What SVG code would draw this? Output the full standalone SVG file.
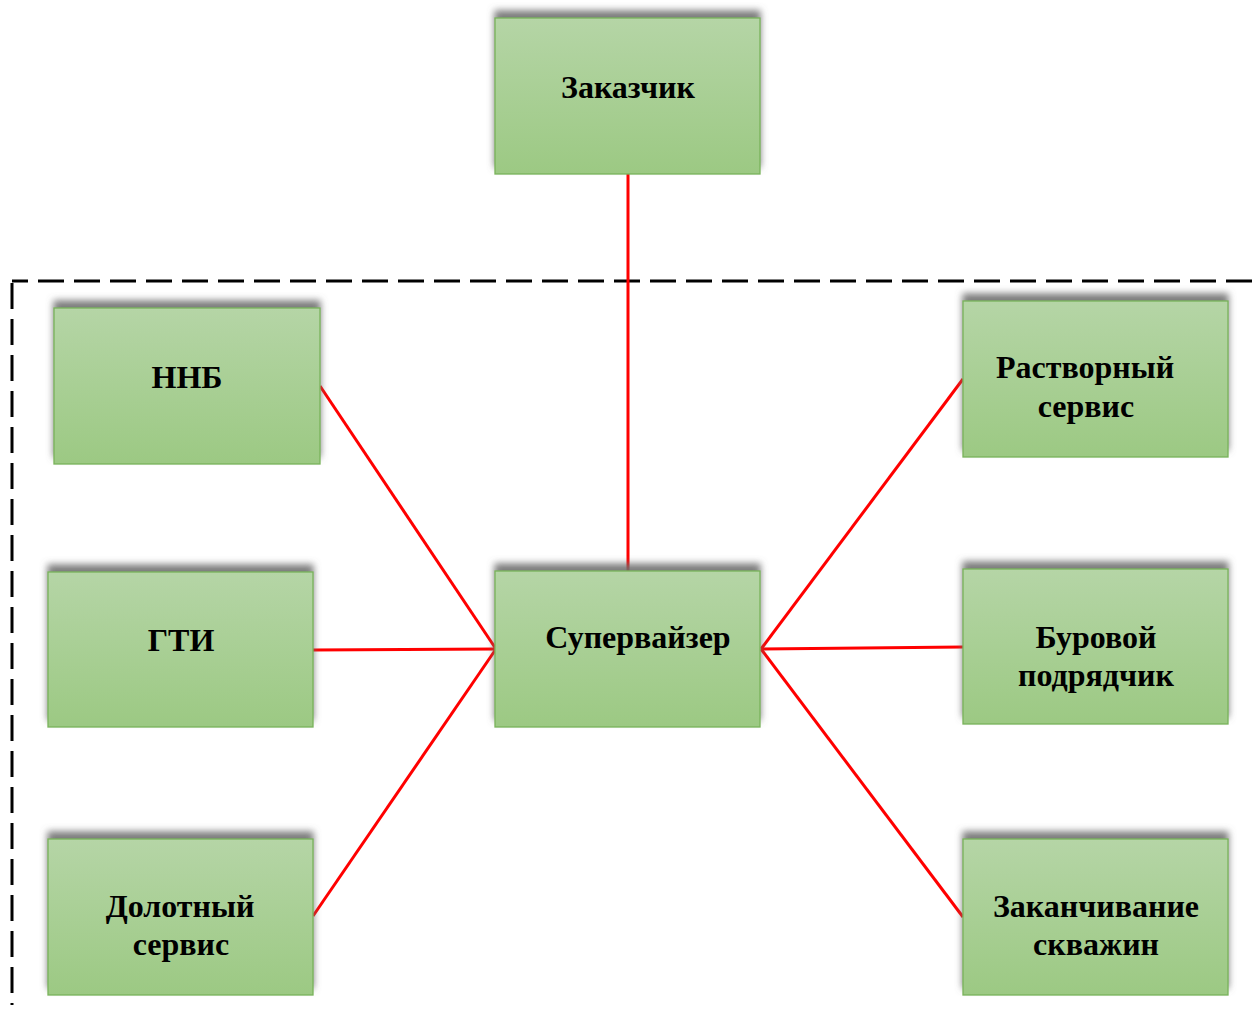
<svg xmlns="http://www.w3.org/2000/svg" width="1252" height="1012" viewBox="0 0 1252 1012">
  <defs>
    <linearGradient id="boxFill" x1="0" y1="0" x2="0" y2="1">
      <stop offset="0" stop-color="#b5d5a6"/>
      <stop offset="1" stop-color="#9cc983"/>
    </linearGradient>
    <filter id="topShadow" x="-10%" y="-20%" width="120%" height="140%">
      <feGaussianBlur in="SourceAlpha" stdDeviation="3.5" result="blur"/>
      <feOffset in="blur" dy="-7" result="off"/>
      <feFlood flood-color="#6e6e6e" flood-opacity="0.9"/>
      <feComposite in2="off" operator="in" result="shadow"/>
      <feMerge>
        <feMergeNode in="shadow"/>
        <feMergeNode in="SourceGraphic"/>
      </feMerge>
    </filter>
  </defs>
  <style>
    .box { fill: url(#boxFill); stroke: #79b259; stroke-width: 1.3; filter: url(#topShadow); }
    .label { font-family: "Liberation Serif", "Times New Roman", serif; font-weight: bold; font-size: 32px; fill: #000; text-anchor: middle; }
    .link { stroke: #ff0000; stroke-width: 3; fill: none; }
    .frame { stroke: #000; stroke-width: 3; fill: none; stroke-dasharray: 26 10; }
  </style>
  <rect width="1252" height="1012" fill="#ffffff"/>

  <!-- dashed boundary of the site team -->
  <g id="boundary">
    <path class="frame" d="M1252 281 H12"/>
    <path class="frame" d="M12 283 V1005"/>
  </g>

  <!-- connectors -->
  <g id="connectors">
    <line class="link" x1="628" y1="174" x2="628" y2="571"/>
    <line class="link" x1="320" y1="386" x2="496" y2="649"/>
    <line class="link" x1="313" y1="650" x2="496" y2="649"/>
    <line class="link" x1="313" y1="916" x2="496" y2="649"/>
    <line class="link" x1="761" y1="649" x2="963" y2="379"/>
    <line class="link" x1="761" y1="649" x2="963" y2="647"/>
    <line class="link" x1="761" y1="649" x2="963" y2="917"/>
  </g>

  <g id="customer">
    <rect class="box" x="495" y="18" width="265" height="156"/>
    <text class="label" x="628" y="98">Заказчик</text>
  </g>

  <g id="nnb">
    <rect class="box" x="54" y="308" width="266" height="156"/>
    <text class="label" x="187" y="388">ННБ</text>
  </g>

  <g id="gti">
    <rect class="box" x="48" y="572" width="265" height="155"/>
    <text class="label" x="181" y="651">ГТИ</text>
  </g>

  <g id="bit-service">
    <rect class="box" x="48" y="839" width="265" height="156"/>
    <text class="label" x="180" y="917">Долотный</text>
    <text class="label" x="181" y="955">сервис</text>
  </g>

  <g id="supervisor">
    <rect class="box" x="495" y="571" width="265" height="156"/>
    <text class="label" x="638" y="648">Супервайзер</text>
  </g>

  <g id="mud-service">
    <rect class="box" x="963" y="301" width="265" height="156"/>
    <text class="label" x="1085" y="378">Растворный</text>
    <text class="label" x="1086" y="417">сервис</text>
  </g>

  <g id="drilling-contractor">
    <rect class="box" x="963" y="569" width="265" height="155"/>
    <text class="label" x="1096" y="648">Буровой</text>
    <text class="label" x="1096" y="686">подрядчик</text>
  </g>

  <g id="well-completion">
    <rect class="box" x="963" y="839" width="265" height="156"/>
    <text class="label" x="1096" y="917">Заканчивание</text>
    <text class="label" x="1096" y="955">скважин</text>
  </g>
</svg>
